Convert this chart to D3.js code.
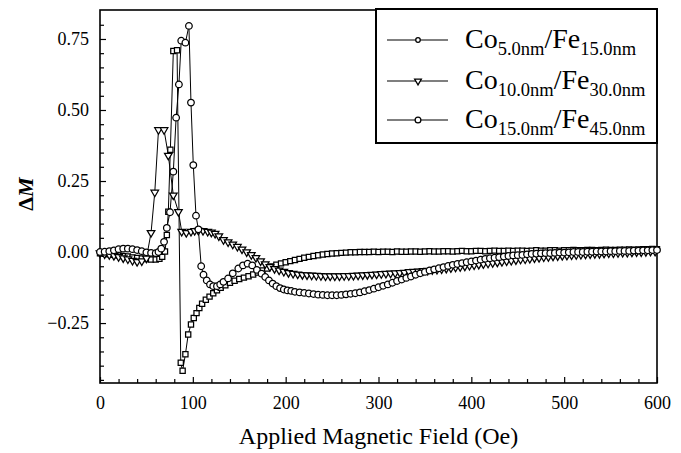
<!DOCTYPE html>
<html>
<head>
<meta charset="UTF-8">
<title>Delta M vs applied field</title>
<script src="https://cdnjs.cloudflare.com/ajax/libs/d3/7.8.5/d3.min.js"></script>
<style>
body { margin: 0; background: #fff; }
.line { fill: none; stroke: #000; stroke-width: 1; }
.mark { fill: #fff; stroke: #000; stroke-width: 1.25; }
.tick line { stroke: #000; stroke-width: 1.2; }
</style>
</head>
<body>
<script>

var serif = "Liberation Serif";

// axis ticks
var fieldTicks = [0, 100, 200, 300, 400, 500, 600];
var dmTicks = [-0.25, 0, 0.25, 0.5, 0.75];

// legend labels (subscripts of Co and Fe)
var coSub = ["5.0nm", "10.0nm", "15.0nm"];
var feSub = ["15.0nm", "30.0nm", "45.0nm"];

// Co5.0nm/Fe15.0nm  [field Oe, deltaM]
var seriesA = [[0,-0.004],[5,-0.006],[10,-0.008],[15,-0.01],[20,-0.012],[25,-0.014],[30,-0.016],[35,-0.019],[40,-0.021],[45,-0.023],[50,-0.025],[55,-0.026],[60,-0.026],[64,-0.024],[67,-0.017],[70,0.002],[72,0.06],[73.6,0.142],[75.8,0.36],[79,0.708],[83,0.71],[87,-0.39],[89,-0.418],[92,-0.36],[95,-0.29],[98,-0.255],[101,-0.232],[104,-0.215],[107,-0.197],[110,-0.182],[114,-0.168],[118,-0.157],[122,-0.145],[126,-0.135],[130,-0.126],[135,-0.117],[140,-0.108],[145,-0.101],[150,-0.095],[155,-0.09],[160,-0.085],[165,-0.079],[170,-0.072],[175,-0.065],[180,-0.058],[185,-0.051],[190,-0.045],[195,-0.04],[200,-0.036],[205,-0.032],[210,-0.028],[215,-0.024],[220,-0.02],[225,-0.017],[230,-0.014],[235,-0.011],[240,-0.009],[245,-0.007],[250,-0.005],[255,-0.004],[260,-0.003],[265,-0.002],[270,-0.001],[275,-0.001],[280,0.0],[285,0.0],[290,0.0],[295,0.001],[300,0.0],[305,0.001],[310,0.001],[315,0.0],[320,0.002],[325,0.001],[330,0.001],[335,0.002],[340,0.002],[345,0.001],[350,0.002],[355,0.003],[360,0.002],[365,0.002],[370,0.003],[375,0.003],[380,0.002],[385,0.003],[390,0.004],[395,0.003],[400,0.003],[405,0.004],[410,0.004],[415,0.003],[420,0.004],[425,0.005],[430,0.004],[435,0.004],[440,0.005],[445,0.004],[450,0.005],[455,0.005],[460,0.004],[465,0.005],[470,0.006],[475,0.005],[480,0.005],[485,0.006],[490,0.006],[495,0.005],[500,0.006],[505,0.006],[510,0.007],[515,0.006],[520,0.006],[525,0.007],[530,0.007],[535,0.006],[540,0.007],[545,0.008],[550,0.007],[555,0.007],[560,0.008],[565,0.008],[570,0.009],[575,0.008],[580,0.009],[585,0.01],[590,0.01],[595,0.011],[600,0.01]];

// Co10.0nm/Fe30.0nm
var seriesB = [[0,-0.004],[5,-0.007],[10,-0.01],[15,-0.013],[20,-0.017],[25,-0.021],[30,-0.025],[35,-0.03],[40,-0.034],[45,-0.032],[50,-0.022],[55,0.068],[59,0.21],[63,0.43],[69,0.43],[73.6,0.34],[79,0.2],[84.5,0.142],[88,0.072],[93,0.068],[98,0.072],[102,0.075],[106,0.076],[111,0.075],[116,0.072],[120,0.069],[124,0.065],[128,0.056],[133,0.043],[138,0.035],[143,0.027],[148,0.019],[153,0.01],[158,0.0],[163,-0.01],[168,-0.02],[173,-0.032],[178,-0.042],[183,-0.052],[188,-0.059],[193,-0.064],[198,-0.069],[203,-0.073],[208,-0.076],[213,-0.078],[218,-0.08],[223,-0.081],[228,-0.082],[233,-0.083],[238,-0.084],[243,-0.085],[248,-0.085],[253,-0.085],[258,-0.085],[263,-0.084],[268,-0.084],[273,-0.083],[278,-0.082],[283,-0.081],[288,-0.08],[293,-0.079],[298,-0.078],[303,-0.077],[308,-0.076],[313,-0.075],[318,-0.074],[323,-0.073],[328,-0.072],[333,-0.07],[338,-0.069],[343,-0.068],[348,-0.066],[353,-0.065],[358,-0.063],[363,-0.062],[368,-0.06],[373,-0.058],[378,-0.056],[383,-0.054],[388,-0.052],[393,-0.05],[398,-0.048],[403,-0.046],[408,-0.044],[413,-0.042],[418,-0.04],[423,-0.038],[428,-0.036],[433,-0.034],[438,-0.032],[443,-0.03],[448,-0.028],[453,-0.026],[458,-0.025],[463,-0.023],[468,-0.021],[473,-0.02],[478,-0.018],[483,-0.017],[488,-0.015],[493,-0.014],[498,-0.013],[503,-0.012],[508,-0.011],[513,-0.01],[518,-0.009],[523,-0.008],[528,-0.007],[533,-0.006],[538,-0.006],[543,-0.005],[548,-0.004],[553,-0.004],[558,-0.003],[563,-0.002],[568,-0.002],[573,-0.001],[578,0.0],[583,0.0],[588,0.001],[593,0.002],[598,0.002]];

// Co15.0nm/Fe45.0nm
var seriesC = [[0,0.0],[5,0.001],[10,0.003],[15,0.006],[20,0.01],[25,0.012],[30,0.012],[35,0.01],[40,0.007],[45,0.003],[50,-0.001],[55,-0.003],[60,-0.004],[63,0.0],[66,0.012],[69,0.036],[72,0.085],[75.4,0.14],[79,0.283],[82,0.473],[85,0.59],[87.5,0.744],[92,0.737],[95.8,0.796],[98,0.526],[100.5,0.306],[103.4,0.128],[106,0.08],[109,-0.05],[111.5,-0.08],[115,-0.1],[118.5,-0.114],[122,-0.12],[126,-0.12],[129.5,-0.114],[133,-0.105],[138,-0.093],[143,-0.075],[149,-0.058],[154,-0.047],[159,-0.041],[164,-0.047],[169,-0.063],[174,-0.076],[178,-0.088],[182,-0.1],[186,-0.111],[190,-0.12],[194,-0.127],[198,-0.132],[202,-0.135],[206,-0.137],[210,-0.14],[215,-0.142],[220,-0.144],[225,-0.146],[230,-0.148],[235,-0.15],[240,-0.151],[245,-0.152],[250,-0.152],[255,-0.152],[260,-0.151],[265,-0.149],[270,-0.147],[275,-0.145],[280,-0.142],[285,-0.138],[290,-0.134],[295,-0.129],[300,-0.124],[305,-0.119],[310,-0.114],[315,-0.108],[320,-0.102],[325,-0.097],[330,-0.091],[335,-0.086],[340,-0.08],[345,-0.075],[350,-0.07],[355,-0.065],[360,-0.061],[365,-0.057],[370,-0.053],[375,-0.049],[380,-0.045],[385,-0.042],[390,-0.039],[395,-0.036],[400,-0.033],[405,-0.03],[410,-0.027],[415,-0.024],[420,-0.022],[425,-0.02],[430,-0.018],[435,-0.016],[440,-0.014],[445,-0.012],[450,-0.011],[455,-0.01],[460,-0.008],[465,-0.007],[470,-0.006],[475,-0.005],[480,-0.004],[485,-0.004],[490,-0.003],[495,-0.002],[500,-0.002],[505,-0.001],[510,0.0],[515,0.0],[520,0.0],[525,0.001],[530,0.001],[535,0.002],[540,0.002],[545,0.002],[550,0.003],[555,0.003],[560,0.004],[565,0.004],[570,0.004],[575,0.005],[580,0.005],[585,0.006],[590,0.006],[595,0.007],[600,0.007]];

var W = 681, H = 453;
var margin = {top: 10, right: 24, bottom: 70, left: 100},
    width = W - margin.left - margin.right,
    height = H - margin.top - margin.bottom;

var svg = d3.select("body").append("svg")
    .attr("width", W)
    .attr("height", H);

var g = svg.append("g")
    .attr("transform", "translate(" + margin.left + "," + margin.top + ")");

var x = d3.scaleLinear().domain([0, 600]).range([0, width]);
var y = d3.scaleLinear().domain([-0.461, 0.852]).range([height, 0]);

// minor ticks
var xMinor = d3.range(0, 601, 20).filter(function(v) { return v % 100 !== 0; });
var yMinor = d3.range(-45, 85, 5).map(function(v) { return v / 100; })
    .filter(function(v) { return Math.round(v * 100) % 25 !== 0; });

function clean(sel) {
  sel.select(".domain").remove();
  sel.selectAll("text")
      .attr("font-family", serif)
      .attr("font-size", 18)
      .attr("fill", "#000");
}

g.append("g")
    .attr("transform", "translate(0," + height + ")")
    .call(d3.axisBottom(x).tickValues(xMinor).tickSize(-4).tickSizeOuter(0).tickFormat(""))
    .call(clean);
g.append("g")
    .call(d3.axisLeft(y).tickValues(yMinor).tickSize(-4).tickSizeOuter(0).tickFormat(""))
    .call(clean);

// major ticks
g.append("g")
    .attr("transform", "translate(0," + height + ")")
    .call(d3.axisBottom(x).tickValues(fieldTicks).tickSize(-6).tickSizeOuter(0).tickPadding(13))
    .call(clean);
g.append("g")
    .call(d3.axisLeft(y).tickValues(dmTicks).tickSize(-6).tickSizeOuter(0).tickPadding(11)
      .tickFormat(d3.format(".2f")))
    .call(clean);

// frame
g.append("rect")
    .attr("width", width)
    .attr("height", height)
    .attr("fill", "none")
    .attr("stroke", "#000")
    .attr("stroke-width", 1.6);

var line = d3.line()
    .x(function(d) { return x(d[0]); })
    .y(function(d) { return y(d[1]); });

var all = [seriesA, seriesB, seriesC];
var shapes = [d3.symbolSquare, d3.symbolTriangle, d3.symbolCircle];
var sizes = [27, 25, 34];
var rot = [0, 180, 0];

all.forEach(function(s, i) {
  g.append("path").datum(s).attr("class", "line").attr("d", line);
});
all.forEach(function(s, i) {
  g.append("g").selectAll("path")
      .data(s)
    .enter().append("path")
      .attr("class", "mark")
      .attr("transform", function(d) {
        return "translate(" + x(d[0]) + "," + y(d[1]) + ") rotate(" + rot[i] + ")"; })
      .attr("d", d3.symbol().type(shapes[i]).size(sizes[i]));
});

// axis titles
svg.append("text")
    .attr("x", margin.left + width / 2)
    .attr("y", 444)
    .attr("text-anchor", "middle")
    .attr("font-family", serif)
    .attr("font-size", 24)
    .text("Applied Magnetic Field (Oe)");

var yl = svg.append("text")
    .attr("transform", "translate(33,194) rotate(-90)")
    .attr("text-anchor", "middle")
    .attr("font-family", serif)
    .attr("font-size", 22)
    .attr("font-weight", "bold");
yl.append("tspan").text("Δ");
yl.append("tspan").attr("font-style", "italic").text("M");

// legend
var lg = svg.append("g");
lg.append("rect")
    .attr("x", 376).attr("y", 9)
    .attr("width", 281).attr("height", 134)
    .attr("fill", "#fff")
    .attr("stroke", "#000")
    .attr("stroke-width", 2);

var rowY = [40, 81, 120];
var legSizes = [16, 20, 26];
var legShapes = [d3.symbolCircle, d3.symbolTriangle, d3.symbolCircle];

coSub.forEach(function(c, i) {
  lg.append("line")
      .attr("x1", 387).attr("x2", 448)
      .attr("y1", rowY[i]).attr("y2", rowY[i])
      .attr("stroke", "#000").attr("stroke-width", 1.2);
  lg.append("path")
      .attr("class", "mark")
      .attr("transform", "translate(418," + rowY[i] + ") rotate(" + rot[i] + ")")
      .attr("d", d3.symbol().type(legShapes[i]).size(legSizes[i]));
  var t = lg.append("text")
      .attr("x", 465)
      .attr("y", rowY[i] + 8)
      .attr("font-family", serif)
      .attr("font-size", 28);
  t.append("tspan").text("Co");
  t.append("tspan").attr("dy", 7).attr("font-size", 18.5).text(c);
  t.append("tspan").attr("dy", -7).text("/Fe");
  t.append("tspan").attr("dy", 7).attr("font-size", 18.5).text(feSub[i]);
});

</script>
</body>
</html>
